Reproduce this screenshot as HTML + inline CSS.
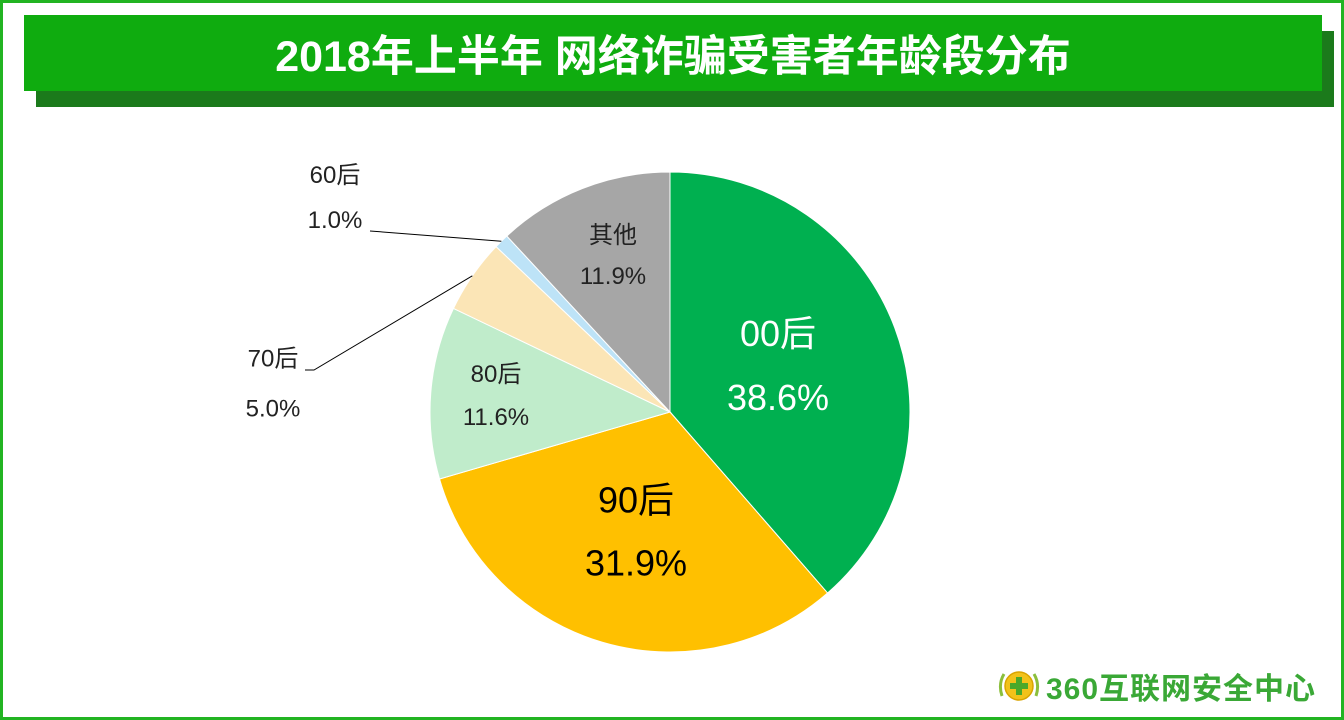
<!DOCTYPE html>
<html><head><meta charset="utf-8"><style>
html,body{margin:0;padding:0;}
body{width:1344px;height:720px;position:relative;overflow:hidden;background:#fff;font-family:"Liberation Sans","Noto Sans CJK SC",sans-serif;}
#frame{position:absolute;left:0;top:0;width:1338px;height:714px;border:3px solid #22b422;}
#shadow{position:absolute;left:36px;top:31px;width:1298px;height:76px;background:#1b7a1b;}
#bar{position:absolute;left:24px;top:15px;width:1298px;height:76px;background:#0fac0f;color:#fff;font-weight:bold;font-size:43px;text-align:center;line-height:84px;}
</style></head><body>
<div id="frame"></div>
<div id="shadow"></div>
<div id="bar">2018年上半年 网络诈骗受害者年龄段分布</div>
<svg id="chart" width="1344" height="720" style="position:absolute;left:0;top:0"></svg>
<div style="position:absolute;left:996px;top:666px;height:40px;display:flex;align-items:center;">
<svg width="46" height="40"><path d="M6 30 Q2 18 8 8 M40 30 Q44 18 38 8" stroke="#8bbf3c" stroke-width="3" fill="none"/><circle cx="23" cy="20" r="14" fill="#f2c21a" stroke="#d9a400" stroke-width="1.5"/><path d="M20 11h6v6h6v6h-6v6h-6v-6h-6v-6h6z" fill="#4aa82a"/></svg>
<span style="color:#3aa836;font-weight:bold;font-size:30px;margin-left:4px;letter-spacing:1px">360互联网安全中心</span></div>
<script>
const categories=["00后","90后","80后","70后","60后","其他"];
const values=[38.6,31.9,11.6,5.0,1.0,11.9];
const colors=["#00b050","#ffc000","#c0eccb","#fbe5b6","#bde3f7","#a6a6a6"];
const cx=670,cy=412,r=240;
const svg=document.getElementById('chart');
const NS="http://www.w3.org/2000/svg";
const total=values.reduce((a,b)=>a+b,0);
function pt(a,rr){return [cx+rr*Math.sin(a),cy-rr*Math.cos(a)];}
let acc=0;
const labelCfg=[
 {fill:"#fff",size:36,at:[778,365],gap:64},{fill:"#000",size:36,at:[636,531],gap:63},{fill:"#222",size:24,at:[496,395],gap:43},
 {fill:"#222",size:24,at:[273,383],gap:50,line:[[305,370],[314,370]]},{fill:"#222",size:24,at:[335,197],gap:45,line:[[370,231]]},{fill:"#222",size:24,at:[613,255],gap:41}];
values.forEach((v,i)=>{
 const a0=acc/total*2*Math.PI; acc+=v; const a1=acc/total*2*Math.PI;
 const p0=pt(a0,r),p1=pt(a1,r);
 const path=document.createElementNS(NS,'path');
 path.setAttribute('d',`M${cx},${cy}L${p0[0]},${p0[1]}A${r},${r} 0 ${a1-a0>Math.PI?1:0} 1 ${p1[0]},${p1[1]}Z`);
 path.setAttribute('fill',colors[i]);path.setAttribute('stroke','#fff');path.setAttribute('stroke-width','1');
 
 
 svg.appendChild(path);
 const c=labelCfg[i],am=(a0+a1)/2;
 if(c.line){
  const e=pt(am,r);const ln=document.createElementNS(NS,'polyline');
  ln.setAttribute('points',c.line.map(p=>p.join(',')).join(' ')+` ${e[0]},${e[1]}`);
  ln.setAttribute('stroke','#000');ln.setAttribute('fill','none');
  
  
  svg.appendChild(ln);
 }
 const lx=c.at[0],ly=c.at[1];
 [categories[i],v.toFixed(1)+"%"].forEach((s,k)=>{
  const t=document.createElementNS(NS,'text');
  t.setAttribute('x',lx);t.setAttribute('y',ly+(k?c.gap/2:-c.gap/2)+c.size*0.36);
  t.setAttribute('text-anchor','middle');t.setAttribute('fill',c.fill);t.setAttribute('font-size',c.size);
  t.setAttribute('font-family','"Liberation Sans","Noto Sans CJK SC",sans-serif');
  t.textContent=s;
  
  
  svg.appendChild(t);
 });
});
</script>
</body></html>
